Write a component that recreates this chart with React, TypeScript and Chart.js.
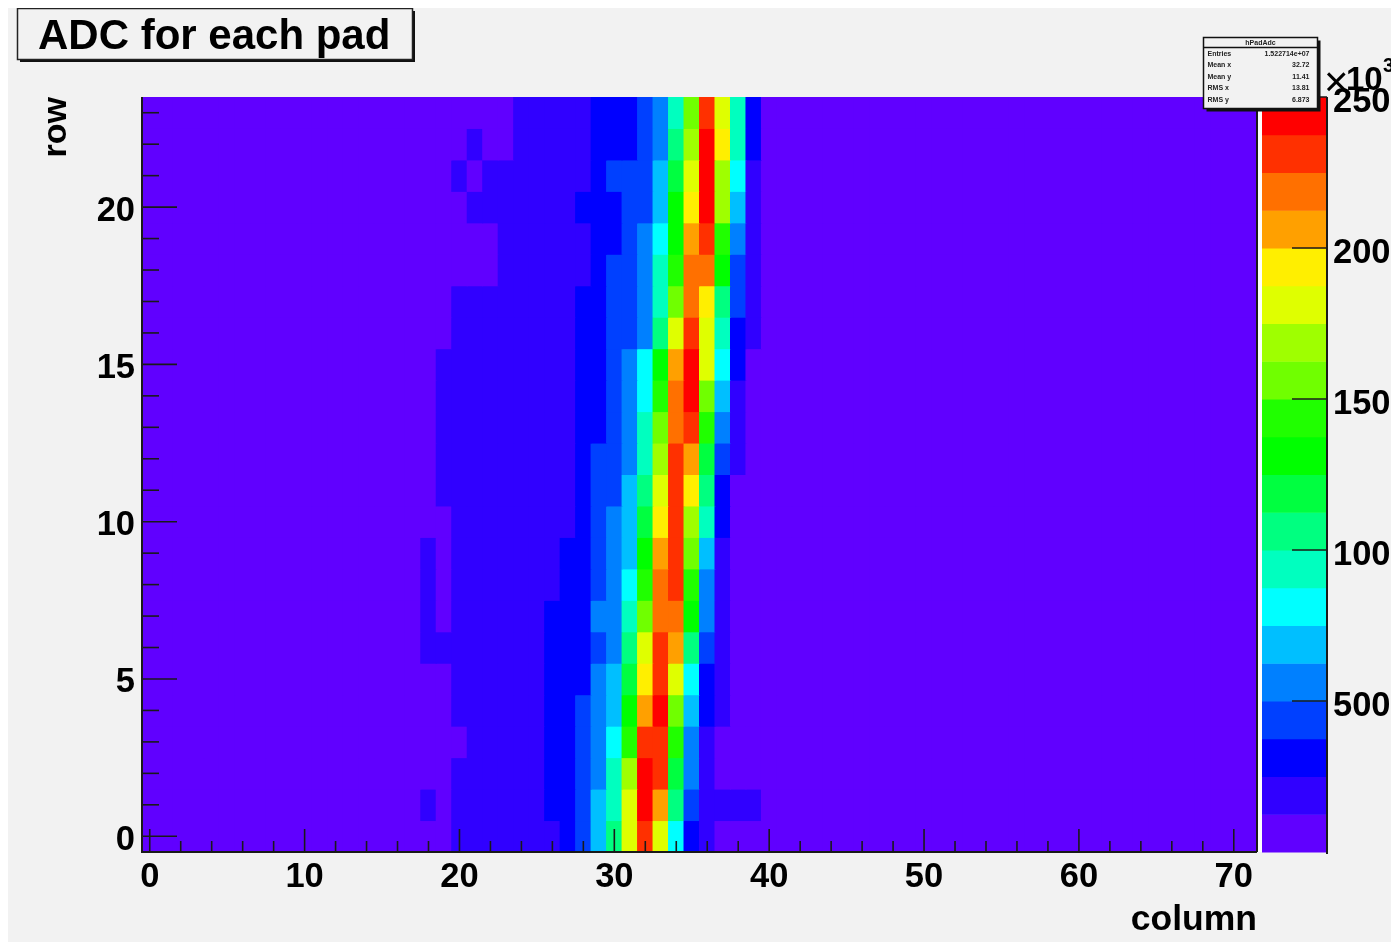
import React, { useEffect, useRef } from "react";
import { Chart, registerables } from "chart.js";

Chart.register(...registerables);

// ADC value of each pad, in thousands. Each row lists columns 17..39; every other column holds backgroundAdc.
const firstColumn = 17;
const columnCount = 72;
const backgroundAdc = 6;
const row23 = [6,6,6,6,6,6,6,19,19,19,19,19,31,31,31,44,56,94,156,231,181,94,31];
const row22 = [6,6,6,6,19,6,6,19,19,19,19,19,31,31,31,44,56,106,169,244,194,94,31];
const row21 = [6,6,6,19,6,19,19,19,19,19,19,19,31,44,44,44,69,119,181,244,169,81,19];
const row20 = [6,6,6,6,19,19,19,19,19,19,19,31,31,31,44,44,69,131,194,244,169,69,19];
const row19 = [6,6,6,6,6,6,19,19,19,19,19,19,31,31,44,56,81,131,206,231,144,56,19];
const row18 = [6,6,6,6,6,6,19,19,19,19,19,19,31,44,44,56,94,144,219,219,131,44,19];
const row17 = [6,6,6,19,19,19,19,19,19,19,19,31,31,44,44,56,94,156,219,194,106,44,19];
const row16 = [6,6,6,19,19,19,19,19,19,19,19,31,31,44,44,56,106,181,231,181,94,31,19];
const row15 = [6,6,19,19,19,19,19,19,19,19,19,31,31,44,56,81,131,206,244,181,81,31,6];
const row14 = [6,6,19,19,19,19,19,19,19,19,19,31,31,44,56,81,144,219,244,156,69,19,6];
const row13 = [6,6,19,19,19,19,19,19,19,19,19,31,31,44,56,94,156,219,231,144,56,19,6];
const row12 = [6,6,19,19,19,19,19,19,19,19,19,31,44,44,56,94,169,231,206,119,44,19,6];
const row11 = [6,6,19,19,19,19,19,19,19,19,19,31,44,44,69,106,181,231,194,106,31,6,6];
const row10 = [6,6,6,19,19,19,19,19,19,19,19,31,44,56,69,119,194,231,169,94,31,6,6];
const row9 = [6,19,6,19,19,19,19,19,19,19,31,31,44,56,69,131,206,231,156,69,19,6,6];
const row8 = [6,19,6,19,19,19,19,19,19,19,31,31,44,56,81,144,219,231,144,56,19,6,6];
const row7 = [6,19,6,19,19,19,19,19,19,31,31,31,56,56,94,156,219,219,131,56,19,6,6];
const row6 = [6,19,19,19,19,19,19,19,19,31,31,31,44,56,106,181,231,206,106,44,19,6,6];
const row5 = [6,6,6,19,19,19,19,19,19,31,31,31,56,69,119,194,231,181,81,31,19,6,6];
const row4 = [6,6,6,19,19,19,19,19,19,31,31,44,56,69,131,206,244,156,69,31,19,6,6];
const row3 = [6,6,6,6,19,19,19,19,19,31,31,44,56,81,144,231,231,144,56,19,6,6,6];
const row2 = [6,6,6,19,19,19,19,19,19,31,31,44,56,94,169,244,231,119,56,19,6,6,6];
const row1 = [6,19,6,19,19,19,19,19,19,31,31,44,69,94,181,244,206,106,44,19,19,19,19];
const row0 = [6,6,6,19,19,19,19,19,19,19,31,44,69,106,181,231,181,81,31,19,6,6,6];
const rows = [row0,row1,row2,row3,row4,row5,row6,row7,row8,row9,row10,row11,row12,row13,row14,row15,row16,row17,row18,row19,row20,row21,row22,row23];

const palette = ["#6000ff","#3000ff","#0000ff","#0040ff","#0080ff","#00bfff","#00ffff","#00ffbf","#00ff80","#00ff40","#00ff00","#20ff00","#70ff00","#9fff00","#dfff00","#ffef00","#ffa000","#ff7000","#ff3000","#ff0000"];
const levelStep = 12.5;
const colTicks = [0, 10, 20, 30, 40, 50, 60, 70];
const rowTicks = [0, 5, 10, 15, 20];
const adcTicks = [50, 100, 150, 200, 250];
const adcTickLabels = ["500", "100", "150", "200", "250"];
const colMinorTicks = [2,4,6,8,12,14,16,18,22,24,26,28,32,34,36,38,42,44,46,48,52,54,56,58,62,64,66,68];
const rowMinorTicks = [1,2,3,4,6,7,8,9,11,12,13,14,16,17,18,19,21,22,23];
const titleText = "ADC for each pad";
const statsName = "hPadAdc";
const statsLabels = ["Entries", "Mean x", "Mean y", "RMS x", "RMS y"];
const statsValues = ["1.522714e+07", "32.72", "11.41", "13.81", "6.873"];

const fontFamily = "'Liberation Sans', Arial, sans-serif";
const colorOf = (v: number) => palette[Math.min(palette.length - 1, Math.floor(v / levelStep))];

const cells: { x: number; y: [number, number]; v: number }[] = [];
for (let r = 0; r < rows.length; r++) {
  for (let c = 0; c < columnCount; c++) {
    const i = c - firstColumn;
    const v = i >= 0 && i < rows[r].length ? rows[r][i] : backgroundAdc;
    cells.push({ x: c, y: [r - 0.5, r + 0.5], v });
  }
}

const decorations = {
  id: "decorations",
  beforeDraw(chart: any) {
    const ctx = chart.ctx;
    ctx.save();
    ctx.fillStyle = "#f2f2f2";
    ctx.fillRect(0, 0, chart.width, chart.height);
    ctx.fillStyle = "#111";
    ctx.fillRect(12, 3, 395, 51);
    ctx.fillStyle = "#f2f2f2";
    ctx.strokeStyle = "#222";
    ctx.lineWidth = 1.5;
    ctx.fillRect(9.5, 0.5, 395, 51);
    ctx.strokeRect(9.5, 0.5, 395, 51);
    ctx.restore();
  },
  afterDatasetsDraw(chart: any) {
    const ctx = chart.ctx;
    const { x, y, z } = chart.scales;
    const a = chart.chartArea;
    ctx.save();
    const barL = a.right + 5;
    const barR = a.right + 69;
    ctx.fillStyle = "#ffffff";
    ctx.fillRect(a.right, a.top, 5, a.bottom - a.top);
    palette.forEach((col, i) => {
      const yB = z.getPixelForValue(i * levelStep);
      const yT = z.getPixelForValue((i + 1) * levelStep);
      ctx.fillStyle = col;
      ctx.fillRect(barL, yT, barR - barL, yB - yT + 0.5);
    });
    ctx.strokeStyle = "#1a1a1a";
    ctx.lineWidth = 2;
    ctx.beginPath();
    ctx.moveTo(a.left, a.top);
    ctx.lineTo(a.left, a.bottom);
    ctx.lineTo(a.right, a.bottom);
    ctx.moveTo(a.right, a.top);
    ctx.lineTo(a.right, a.bottom);
    ctx.moveTo(barR + 1, a.top);
    ctx.lineTo(barR + 1, a.bottom + 2);
    ctx.stroke();
    ctx.lineWidth = 1.6;
    const line = (x0: number, y0: number, x1: number, y1: number) => {
      ctx.beginPath();
      ctx.moveTo(x0, y0);
      ctx.lineTo(x1, y1);
      ctx.stroke();
    };
    colTicks.forEach((t) => line(x.getPixelForValue(t), a.bottom, x.getPixelForValue(t), a.bottom - 23));
    colMinorTicks.forEach((t) => line(x.getPixelForValue(t), a.bottom, x.getPixelForValue(t), a.bottom - 11));
    rowTicks.forEach((t) => line(a.left, y.getPixelForValue(t), a.left + 35, y.getPixelForValue(t)));
    rowMinorTicks.forEach((t) => line(a.left, y.getPixelForValue(t), a.left + 17, y.getPixelForValue(t)));
    adcTicks.forEach((t) => line(barR + 1, z.getPixelForValue(t), barR - 34, z.getPixelForValue(t)));
    ctx.restore();
  },
  afterDraw(chart: any) {
    const ctx = chart.ctx;
    ctx.save();
    ctx.fillStyle = "#000";
    ctx.textBaseline = "alphabetic";
    ctx.font = `normal 42px ${fontFamily}`;
    ctx.fillText("×", 1316, 88);
    ctx.font = `bold 33px ${fontFamily}`;
    ctx.fillText("10", 1338, 82);
    ctx.font = `bold 20px ${fontFamily}`;
    ctx.fillText("3", 1375, 64);
    const bx = 1195.5, by = 29.5, bw = 114, bh = 71;
    ctx.fillStyle = "#111";
    ctx.fillRect(bx + 3, by + 3, bw, bh);
    ctx.fillStyle = "#f2f2f2";
    ctx.fillRect(bx, by, bw, bh);
    ctx.strokeStyle = "#111";
    ctx.lineWidth = 1.5;
    ctx.strokeRect(bx, by, bw, bh);
    ctx.beginPath();
    ctx.moveTo(bx, by + 10);
    ctx.lineTo(bx + bw, by + 10);
    ctx.stroke();
    ctx.fillStyle = "#222";
    ctx.font = `bold 7px ${fontFamily}`;
    ctx.textAlign = "center";
    ctx.fillText(statsName, bx + bw / 2, by + 7);
    statsLabels.forEach((label, i) => {
      const ty = by + 18 + i * 11.5;
      ctx.textAlign = "left";
      ctx.fillText(label, bx + 4, ty);
      ctx.textAlign = "right";
      ctx.fillText(statsValues[i], bx + bw - 8, ty);
    });
    ctx.restore();
  },
};

const noPadding = (s: any) => {
  s.paddingTop = 0;
  s.paddingBottom = 0;
  s.paddingLeft = 0;
  s.paddingRight = 0;
};

export default function App() {
  const ref = useRef<HTMLCanvasElement>(null);
  useEffect(() => {
    document.body.style.margin = "8px 0 0 8px";
    const tickFont = { family: fontFamily, size: 34.5, weight: "bold" as const, lineHeight: 1 };
    const chart = new Chart(ref.current!, {
      type: "bar",
      data: {
        datasets: [
          {
            label: "ADC",
            data: cells as any,
            backgroundColor: (c: any) => colorOf(c.raw?.v ?? 0),
            barPercentage: 1,
            categoryPercentage: 1,
            inflateAmount: 0.5,
            grouped: false,
            yAxisID: "y",
            xAxisID: "x",
          },
        ],
      },
      options: {
        animation: false,
        responsive: false,
        layout: { padding: { left: 30, right: 0, top: 0, bottom: 0 }, autoPadding: false },
        plugins: {
          legend: { display: false },
          tooltip: { enabled: false },
          title: {
            display: true,
            text: titleText,
            align: "start",
            color: "#000",
            font: { family: fontFamily, size: 42, weight: "bold", lineHeight: 1.2 },
            padding: { top: 3.8, bottom: 34.8 },
          },
        },
        scales: {
          x: {
            type: "linear",
            offset: false,
            min: -0.5,
            max: 71.5,
            border: { display: false },
            grid: { display: false, drawTicks: false },
            afterBuildTicks: (s: any) => {
              s.ticks = colTicks.map((value) => ({ value }));
            },
            afterFit: (s: any) => {
              s.height = 90;
              noPadding(s);
            },
            ticks: { font: tickFont, color: "#000", padding: 8.5, maxRotation: 0, autoSkip: false },
            title: {
              display: true,
              text: "column",
              align: "end",
              color: "#000",
              font: { family: fontFamily, size: 35.5, weight: "bold", lineHeight: 1 },
              padding: { top: 0, bottom: 4 },
            },
          },
          y: {
            type: "linear",
            position: "left",
            min: -0.5,
            max: 23.5,
            border: { display: false },
            grid: { display: false, drawTicks: false },
            afterBuildTicks: (s: any) => {
              s.ticks = rowTicks.map((value) => ({ value }));
            },
            afterFit: (s: any) => {
              s.width = 104;
              noPadding(s);
            },
            ticks: { font: tickFont, color: "#000", padding: 7, labelOffset: 4, autoSkip: false },
            title: {
              display: true,
              text: "row",
              align: "end",
              color: "#000",
              font: { family: fontFamily, size: 34, weight: "bold", lineHeight: 1 },
              padding: { top: 2, bottom: 0 },
            },
          },
          z: {
            type: "linear",
            position: "right",
            min: 0,
            max: 250,
            border: { display: false },
            grid: { display: false, drawTicks: false },
            afterBuildTicks: (s: any) => {
              s.ticks = adcTicks.map((value) => ({ value }));
            },
            afterFit: (s: any) => {
              s.width = 134;
              noPadding(s);
            },
            ticks: {
              font: tickFont,
              color: "#000",
              padding: 76,
              labelOffset: 5,
              autoSkip: false,
              callback: (v: any) => adcTickLabels[adcTicks.indexOf(Number(v))] ?? "",
            },
          },
        },
      } as any,
      plugins: [decorations],
    });
    return () => chart.destroy();
  }, []);
  return (
    <canvas
      ref={ref}
      width={1383}
      height={934}
      style={{ display: "block", filter: "blur(0.5px)" }}
    />
  );
}
